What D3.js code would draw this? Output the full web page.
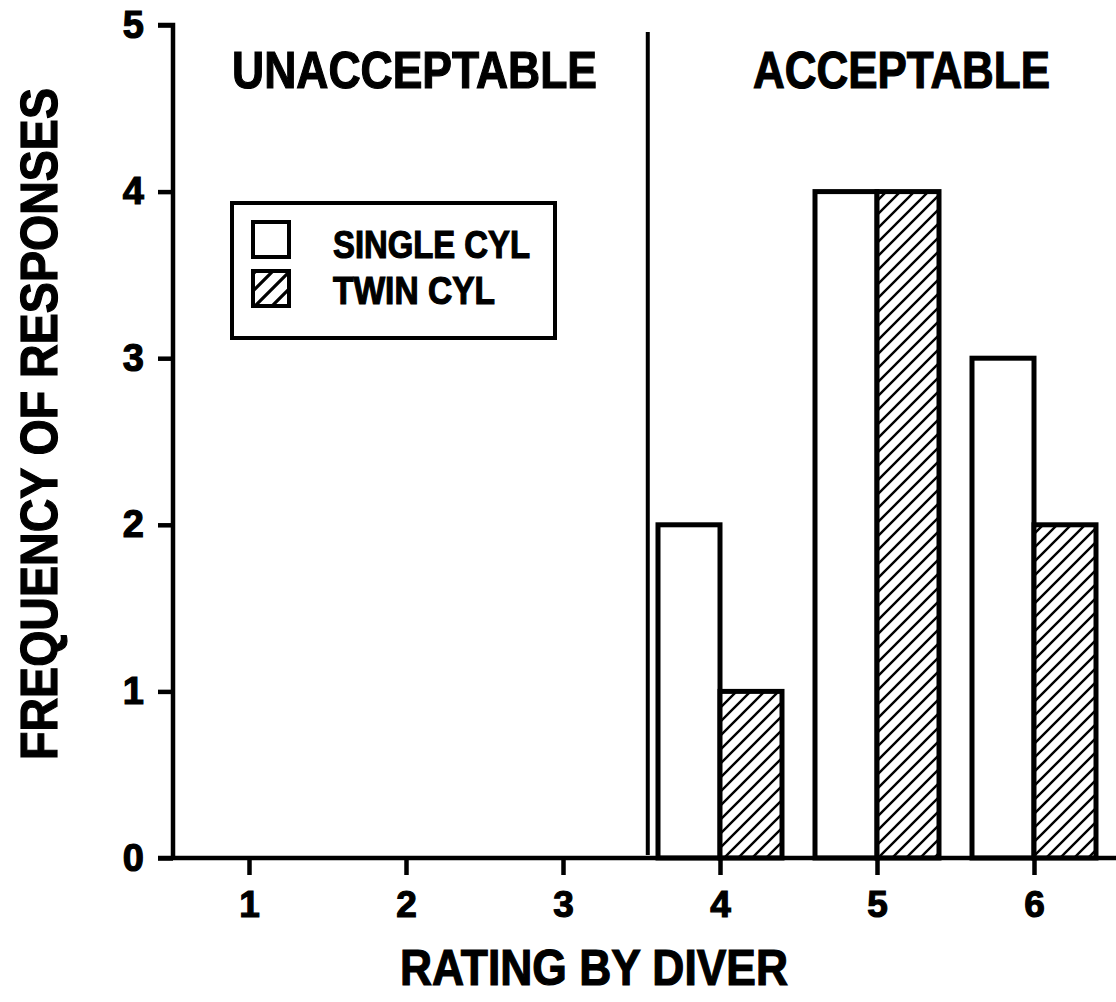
<!DOCTYPE html>
<html>
<head>
<meta charset="utf-8">
<script src="https://cdn.jsdelivr.net/npm/d3@7"></script>
<style>
  html, body { margin: 0; padding: 0; background: #fff; }
  svg { display: block; }
  text { font-family: "Liberation Sans", Arial, Helvetica, sans-serif; font-weight: bold; fill: #000; stroke: #000; stroke-width: 1.2px; }
</style>
</head>
<body>
<svg id="chart" width="1116" height="1002"></svg>
<script>
// ---- data ----
const ratings = [1, 2, 3, 4, 5, 6];
const singleCyl = [0, 0, 0, 2, 4, 3];
const twinCyl = [0, 0, 0, 1, 4, 2];
const yTicks = [0, 1, 2, 3, 4, 5];
const seriesNames = ["SINGLE CYL", "TWIN CYL"];
const regionLabels = ["UNACCEPTABLE", "ACCEPTABLE"];
const xTitle = "RATING BY DIVER";
const yTitle = "FREQUENCY OF RESPONSES";

const svg = d3.select("#chart");
const defs = svg.append("defs");

function hatch(id, size, sw) {
  const p = defs.append("pattern").attr("id", id)
    .attr("patternUnits", "userSpaceOnUse")
    .attr("width", size).attr("height", size);
  p.append("rect").attr("width", size).attr("height", size).attr("fill", "#fff");
  p.append("path")
    .attr("d", `M${-size/4},${size/4} L${size/4},${-size/4} M0,${size} L${size},0 M${size*3/4},${size*5/4} L${size*5/4},${size*3/4}`)
    .attr("stroke", "#000").attr("stroke-width", sw).attr("fill", "none");
}
hatch("hatchBar", 14, 2.4);
hatch("hatchLegend", 17, 3.2);

const x = d3.scaleLinear().domain([1, 6]).range([249, 1034]);
const y = d3.scaleLinear().domain([0, 5]).range([858, 25]);
const barW = 62;

// bars
const g = svg.append("g");
ratings.forEach((r, i) => {
  if (singleCyl[i] > 0) {
    g.append("rect")
      .attr("x", x(r) - barW).attr("y", y(singleCyl[i]))
      .attr("width", barW).attr("height", y(0) - y(singleCyl[i]))
      .attr("fill", "#fff").attr("stroke", "#000").attr("stroke-width", 5);
  }
  if (twinCyl[i] > 0) {
    g.append("rect")
      .attr("x", x(r)).attr("y", y(twinCyl[i]))
      .attr("width", barW).attr("height", y(0) - y(twinCyl[i]))
      .attr("fill", "url(#hatchBar)").attr("stroke", "#000").attr("stroke-width", 5);
  }
});

// y axis
const yAxis = d3.axisLeft(y).tickValues(yTicks).tickSize(15).tickPadding(12).tickFormat(d3.format("d"));
const ya = svg.append("g").attr("transform", `translate(173,0)`).call(yAxis)
  .attr("font-size", 38).attr("font-family", null);
ya.select(".domain").attr("d", `M-15,${y(5)}H0V${y(0)}`).attr("stroke-width", 4.5).attr("stroke", "#000");
ya.selectAll(".tick line").attr("stroke-width", 4.5).attr("stroke", "#000");
ya.selectAll(".tick text").attr("font-size", 38).style("font-size", "38px").attr("dx", "-2");

// x axis
const xAxis = d3.axisBottom(x).tickValues(ratings).tickSize(17).tickPadding(16).tickFormat(d3.format("d"));
const xa = svg.append("g").attr("transform", `translate(0,${y(0)})`).call(xAxis)
  .attr("font-size", 37).attr("font-family", null);
xa.select(".domain").attr("d", `M158,0H1116`).attr("stroke-width", 4.5).attr("stroke", "#000");
xa.selectAll(".tick line").attr("stroke-width", 4.5).attr("stroke", "#000");
xa.selectAll(".tick text").attr("font-size", 37).style("font-size", "37px");

// divider
svg.append("line")
  .attr("x1", x(3.54)).attr("x2", x(3.54))
  .attr("y1", 32).attr("y2", y(0) - 3)
  .attr("stroke", "#000").attr("stroke-width", 4);

// region labels
svg.append("text").attr("x", 232).attr("y", 88).text(regionLabels[0])
  .style("font-size", "52px").attr("textLength", 365).attr("lengthAdjust", "spacingAndGlyphs");
svg.append("text").attr("x", 753).attr("y", 88).text(regionLabels[1])
  .style("font-size", "52px").attr("textLength", 297).attr("lengthAdjust", "spacingAndGlyphs");

// legend
const lg = svg.append("g");
lg.append("rect").attr("x", 232).attr("y", 203).attr("width", 323).attr("height", 135)
  .attr("fill", "#fff").attr("stroke", "#000").attr("stroke-width", 4);
const legFills = ["#fff", "url(#hatchLegend)"];
const legLens = [197, 162];
seriesNames.forEach((s, i) => {
  lg.append("rect").attr("x", 253).attr("y", 222 + i * 49).attr("width", 36).attr("height", 35)
    .attr("fill", legFills[i]).attr("stroke", "#000").attr("stroke-width", 4);
  lg.append("text").attr("x", 333).attr("y", 258 + i * 46).text(s)
    .style("font-size", "38px").attr("textLength", legLens[i]).attr("lengthAdjust", "spacingAndGlyphs");
});

// axis titles
svg.append("text").attr("x", 400).attr("y", 985).text(xTitle)
  .style("font-size", "50px").attr("textLength", 388).attr("lengthAdjust", "spacingAndGlyphs");
svg.append("text").attr("transform", "translate(57,760) rotate(-90)").text(yTitle)
  .style("font-size", "52px").attr("textLength", 672).attr("lengthAdjust", "spacingAndGlyphs");
</script>
</body>
</html>
